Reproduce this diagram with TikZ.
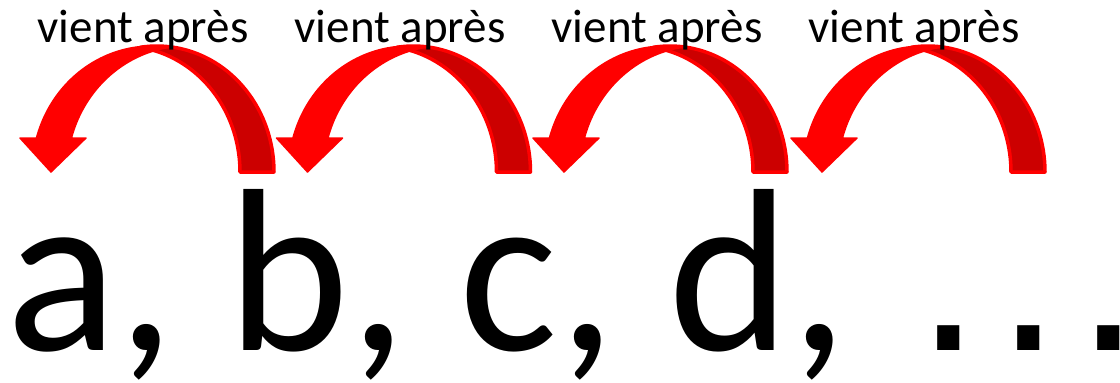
\documentclass[tikz,border=0pt]{standalone}
\usepackage{fontspec}
\setmainfont{Carlito}
\newfontfamily\dotfont{Liberation Sans}
\definecolor{arrowred}{RGB}{255,0,0}
\definecolor{arrowdark}{RGB}{204,0,0}
\tikzset{
  bigtext/.style={anchor=base west, inner sep=0pt, font=\fontsize{232}{232}\selectfont},
  lbl/.style={anchor=base, inner sep=0pt, font=\fontsize{47}{47}\selectfont},
  curvarrow/.pic={
    % back (dark) band
    \filldraw[fill=arrowdark, draw=arrowred, line width=3.5pt, line join=round]
      plot[domain=0:98.35, samples=40] ({157+117*cos(\x)},{172-126*sin(\x)})
      -- plot[domain=81.65:0, samples=40] ({123+117*cos(\x)},{172-126*sin(\x)})
      -- cycle;
    % front band with head
    \filldraw[fill=arrowred, draw=arrowred, line width=1.5pt, line join=round]
      plot[domain=164.35:81.6, samples=50] ({152+120*cos(\x)},{172-126*sin(\x)})
      -- plot[domain=98.4:164.35, samples=50] ({187+120*cos(\x)},{172-126*sin(\x)})
      -- (86,138) -- (51,172) -- (20,138) -- cycle;
  }
}
\begin{document}
\begin{tikzpicture}[x=1pt,y=-1pt]
\useasboundingbox (0,0) rectangle (1120,383);
\foreach \k/\dx in {1/0,2/256.5,3/513,4/771}{
  \pic at (\dx,0) {curvarrow};
}
\node[lbl] (l1) at (143,42) {vient après};
\node[lbl] (l2) at (400,42) {vient après};
\node[lbl] (l3) at (657,42) {vient après};
\node[lbl] (l4) at (914,42) {vient après};
\node[bigtext] (seq) at (6,350) {a, b, c, d,\hspace{68pt}{\dotfont .\hspace{16pt}.\hspace{16pt}.}};
\end{tikzpicture}
\end{document}
